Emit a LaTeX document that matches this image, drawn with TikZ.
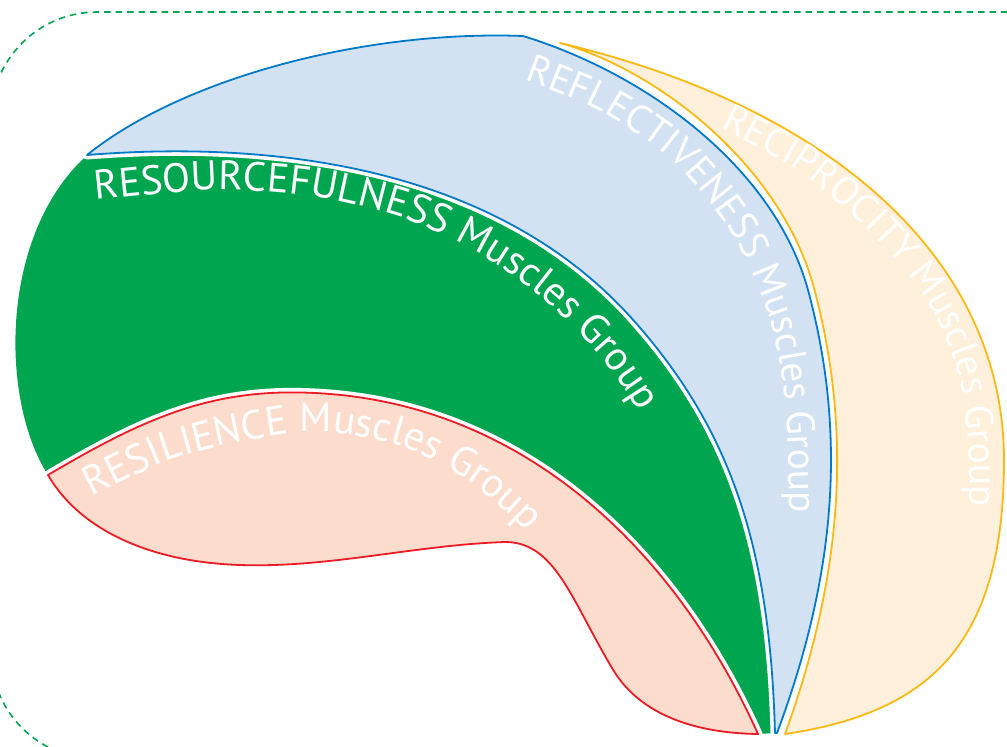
\documentclass[tikz,border=0pt]{standalone}
\usepackage{fontspec}
\newfontfamily\lbl{PT Sans}
\usetikzlibrary{decorations.text}
\definecolor{gfill}{RGB}{0,165,80}
\definecolor{bline}{RGB}{0,122,200}
\definecolor{bfill}{RGB}{211,226,242}
\definecolor{rline}{RGB}{237,28,36}
\definecolor{rfill}{RGB}{252,221,205}
\definecolor{yline}{RGB}{253,185,19}
\definecolor{yfill}{RGB}{254,240,218}
\definecolor{framegreen}{RGB}{0,166,81}
\tikzset{
  halo/.style={preaction={draw=white,line width=9pt,line join=round}},
  shapeline/.style={line width=1.8pt,line join=round},
  frameline/.style={draw=framegreen,line width=1.6pt,dash pattern=on 6.5pt off 5pt,rounded corners=106pt},
  lbltext/.style 2 args={decorate,decoration={text along path,text color=white,text={|\lbl\fontsize{#1}{#1}\selectfont|#2}}}
}
\def\GreenPath{(82,160) -- (87,155) .. controls (287,139) and (503,172) .. (635,322) .. controls (734,434) and (770,553) .. (775,733) -- (758,734) .. controls (676,552) and (529,410) .. (330,394) .. controls (220,385) and (151,414) .. (48,475) .. controls (0,400) and (0,240) .. (82,160) -- cycle}
\def\BluePath{(87,155) .. controls (180,80) and (360,30) .. (523,36) .. controls (650,75) and (775,170) .. (808,290) .. controls (843,420) and (842,559) .. (777,733) -- (775,733) .. controls (770,553) and (734,434) .. (635,322) .. controls (503,172) and (287,139) .. (87,155) -- cycle}
\def\RedPath{(48,475) .. controls (151,414) and (220,385) .. (330,394) .. controls (529,410) and (676,552) .. (758,734) .. controls (688,733) and (637,711) .. (612,668) .. controls (571,599) and (555,542) .. (505,542) .. controls (415,545) and (330,568) .. (240,565) .. controls (150,562) and (80,530) .. (48,475) -- cycle}
\def\YellowPath{(560,43) .. controls (832,107) and (1004,260) .. (1004,460) .. controls (1004,640) and (934,712) .. (785,734) .. controls (848,560) and (849,420) .. (814,288) .. controls (781,166) and (658,70) .. (560,43) -- cycle}
\begin{document}
\begin{tikzpicture}[x=1pt,y=-1pt]
\useasboundingbox (0,0) rectangle (1007,747);
\clip (0,0) rectangle (1007,747);
\path[frameline] (-9,12) rectangle (1150,759);
\fill[gfill] \GreenPath;
\path[halo,fill=bfill,draw=bline,shapeline] \BluePath;
\path[halo,fill=rfill,draw=rline,shapeline] \RedPath;
\path[fill=yfill,draw=yline,shapeline] \YellowPath;
\path[lbltext={41}{RESOURCEFULNESS Muscles Group}] plot[smooth] coordinates {(96,200) (213,190) (310,196) (400,217) (475,251) (545,300) (605,362) (650,430) (680,500)};
\path[lbltext={39.5}{REFLECTIVENESS Muscles Group}] plot[smooth] coordinates {(524,80) (600,111) (675,163) (735,238) (770,318) (785,400) (789,480) (789,560)};
\path[lbltext={39.5}{RECIPROCITY Muscles Group}] plot[smooth] coordinates {(720,128) (800,172) (870,232) (925,298) (957,368) (968,440) (970,530)};
\path[lbltext={41}{RESILIENCE Muscles Group}] plot[smooth] coordinates {(92,497) (170,460) (250,440) (320,432) (400,446) (470,482) (530,535) (570,590)};
\end{tikzpicture}
\end{document}
